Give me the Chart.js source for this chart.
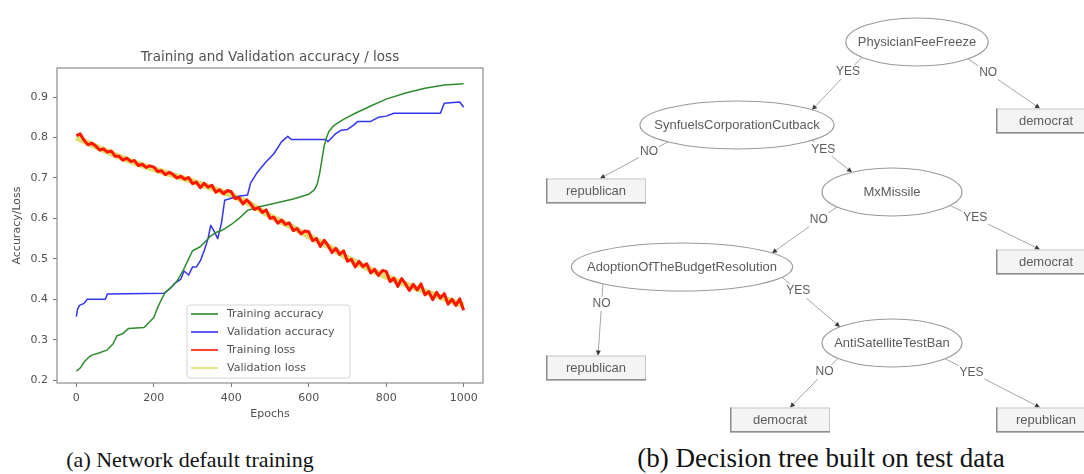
<!DOCTYPE html>
<html>
<head>
<meta charset="utf-8">
<script src="https://cdn.jsdelivr.net/npm/chart.js@4.4.1/dist/chart.umd.min.js"></script>
<style>
  html, body { margin: 0; padding: 0; background: #fff; width: 1084px; height: 474px; overflow: hidden; position: relative; }
  #lossChart { position: absolute; left: 0; top: 0; }
  #treeChart { position: absolute; left: 530px; top: 0; }
  .caption { position: absolute; font-family: 'Liberation Serif', serif; color: #111;
             white-space: nowrap; transform: translateX(-50%); }
  #capA { left: 190px; top: 449px; font-size: 22px; line-height: 22px; }
  #capB { left: 821px; top: 445px; font-size: 27px; line-height: 27px; }
</style>
</head>
<body>
<canvas id="lossChart" width="520" height="430"></canvas>
<canvas id="treeChart" width="554" height="440"></canvas>
<div class="caption" id="capA">(a) Network default training</div>
<div class="caption" id="capB">(b) Decision tree built on test data</div>

<script>
// ---------- training curves ----------
const chartTitle = 'Training and Validation accuracy / loss';
const epochTicks = [0, 200, 400, 600, 800, 1000];
const yTickValues = [0.2, 0.3, 0.4, 0.5, 0.6, 0.7, 0.8, 0.9];

const trainAccEpochs = [0, 10, 20, 30, 40, 60, 80, 95, 105, 120, 135, 175, 190, 200, 210, 220, 228, 245, 260, 275,
  290, 300, 320, 335, 345, 360, 375, 400, 420, 442, 470, 510, 560, 600, 614, 622, 628, 634, 640, 646,
  652, 665, 690, 720, 760, 800, 850, 900, 950, 1000];
const trainAcc = [0.222, 0.23, 0.245, 0.255, 0.262, 0.268, 0.275, 0.29, 0.31, 0.315, 0.328, 0.33, 0.345, 0.355, 0.38, 0.40, 0.415, 0.43, 0.445, 0.47,
  0.50, 0.52, 0.53, 0.545, 0.555, 0.565, 0.57, 0.585, 0.60, 0.62, 0.628, 0.637, 0.648, 0.66, 0.67, 0.685, 0.71, 0.745, 0.78, 0.80,
  0.815, 0.83, 0.845, 0.86, 0.878, 0.895, 0.91, 0.922, 0.93, 0.933];

const valAccEpochs = [0, 3, 8, 20, 28, 75, 80, 226, 240, 255, 270, 278, 290, 300, 310, 321, 330, 340, 347, 355,
  365, 375, 383, 400, 420, 442, 450, 468, 490, 510, 530, 546, 555, 644, 650, 660, 670, 683, 700, 715,
  727, 760, 780, 800, 820, 940, 950, 990, 1000];
const valAcc = [0.357, 0.375, 0.385, 0.39, 0.40, 0.40, 0.413, 0.415, 0.425, 0.44, 0.45, 0.47, 0.46, 0.48, 0.48, 0.497, 0.52, 0.55, 0.583, 0.57,
  0.55, 0.59, 0.645, 0.65, 0.655, 0.658, 0.688, 0.715, 0.74, 0.76, 0.79, 0.803, 0.795, 0.795, 0.79, 0.80, 0.81, 0.818, 0.82, 0.83,
  0.84, 0.84, 0.85, 0.853, 0.86, 0.86, 0.885, 0.888, 0.875];

// training loss, one reading every 10 epochs
const trainLossStep = 10;
const trainLoss = [
  0.805, 0.809, 0.793, 0.782, 0.786, 0.779, 0.769, 0.772, 0.764, 0.767,
  0.754, 0.754, 0.744, 0.749, 0.741, 0.743, 0.731, 0.734, 0.726, 0.730,
  0.727, 0.716, 0.718, 0.708, 0.714, 0.708, 0.700, 0.704, 0.697, 0.701,
  0.686, 0.690, 0.676, 0.687, 0.677, 0.682, 0.665, 0.671, 0.661, 0.669,
  0.666, 0.649, 0.651, 0.636, 0.646, 0.636, 0.622, 0.627, 0.615, 0.621,
  0.600, 0.603, 0.588, 0.596, 0.585, 0.589, 0.570, 0.575, 0.562, 0.569,
  0.567, 0.545, 0.550, 0.531, 0.546, 0.533, 0.516, 0.526, 0.511, 0.520,
  0.494, 0.499, 0.480, 0.494, 0.481, 0.488, 0.465, 0.474, 0.459, 0.471,
  0.469, 0.444, 0.452, 0.432, 0.451, 0.438, 0.422, 0.437, 0.423, 0.438,
  0.411, 0.419, 0.399, 0.417, 0.403, 0.414, 0.388, 0.400, 0.385, 0.401,
  0.373];

// validation loss, one reading every 50 epochs
const valLossStep = 50;
const valLoss = [0.800, 0.778, 0.757, 0.738, 0.722, 0.707, 0.692, 0.675, 0.658, 0.635, 0.606,
  0.582, 0.556, 0.532, 0.502, 0.478, 0.456, 0.437, 0.420, 0.402, 0.385];

const toPoints = (xs, ys) => xs.map((x, i) => ({ x, y: ys[i] }));
const stepPoints = (step, ys) => ys.map((y, i) => ({ x: i * step, y }));

const axisFont = { family: 'DejaVu Sans', size: 11 };
const textColor = '#505050';

// full box around the plotting area
const framePlugin = {
  id: 'frame',
  afterDatasetsDraw(chart) {
    const { ctx, chartArea: a } = chart;
    ctx.save();
    ctx.strokeStyle = '#8c8c8c';
    ctx.lineWidth = 1.2;
    ctx.strokeRect(a.left, a.top, a.right - a.left, a.bottom - a.top);
    ctx.restore();
  }
};

// title above the plotting area
const titlePlugin = {
  id: 'plotTitle',
  afterDraw(chart) {
    const { ctx, chartArea: a } = chart;
    ctx.save();
    ctx.font = '13.5px "DejaVu Sans"';
    ctx.fillStyle = textColor;
    ctx.textAlign = 'center';
    ctx.textBaseline = 'alphabetic';
    ctx.fillText(chartTitle, (a.left + a.right) / 2, a.top - 7);
    ctx.restore();
  }
};

// legend box inside the plot, lower centre
const insetLegend = {
  id: 'insetLegend',
  afterDraw(chart) {
    const { ctx, chartArea: a } = chart;
    const sets = chart.data.datasets;
    const left = a.left + 130, w = 163, rowH = 18;
    const h = sets.length * rowH + 1;
    const top = a.bottom - 5 - h;
    ctx.save();
    ctx.fillStyle = 'rgba(255,255,255,0.85)';
    ctx.strokeStyle = '#d4d4d4';
    ctx.lineWidth = 1;
    ctx.beginPath();
    ctx.roundRect(left, top, w, h, 3);
    ctx.fill();
    ctx.stroke();
    ctx.font = '11px "DejaVu Sans"';
    ctx.textBaseline = 'middle';
    ctx.textAlign = 'left';
    sets.forEach((ds, i) => {
      const y = top + 9 + i * rowH;
      ctx.strokeStyle = ds.borderColor;
      ctx.lineWidth = 1.6;
      ctx.beginPath();
      ctx.moveTo(left + 4, y);
      ctx.lineTo(left + 31, y);
      ctx.stroke();
      ctx.fillStyle = textColor;
      ctx.fillText(ds.label, left + 40, y);
    });
    ctx.restore();
  }
};

new Chart(document.getElementById('lossChart'), {
  type: 'line',
  data: {
    datasets: [
      { label: 'Training accuracy', data: toPoints(trainAccEpochs, trainAcc), borderColor: '#2e8b2e', borderWidth: 1.5, order: 2 },
      { label: 'Validation accuracy', data: toPoints(valAccEpochs, valAcc), borderColor: '#3434ee', borderWidth: 1.5, order: 2 },
      { label: 'Training loss', data: stepPoints(trainLossStep, trainLoss), borderColor: '#ff1600', borderWidth: 3, order: 1 },
      { label: 'Validation loss', data: stepPoints(valLossStep, valLoss), borderColor: '#dede70', borderWidth: 6, order: 3 }
    ]
  },
  options: {
    responsive: false,
    animation: false,
    events: [],
    elements: { point: { radius: 0, hoverRadius: 0 }, line: { tension: 0, borderJoinStyle: 'round' } },
    layout: { autoPadding: false, padding: { top: 68, right: 37, left: 0, bottom: 0 } },
    scales: {
      x: {
        type: 'linear', min: -50, max: 1050,
        afterBuildTicks: s => { s.ticks = epochTicks.map(v => ({ value: v })); },
        afterFit: s => { s.height = 47; },
        grid: { drawOnChartArea: false, drawTicks: true, tickLength: 4, tickColor: '#777' },
        border: { display: false },
        ticks: { padding: 5, color: textColor, font: axisFont, maxRotation: 0, callback: v => String(v) },
        title: { display: true, text: 'Epochs', color: textColor, font: axisFont, padding: { top: 0, bottom: 9 } }
      },
      y: {
        type: 'linear', min: 0.193, max: 0.972,
        afterBuildTicks: s => { s.ticks = yTickValues.map(v => ({ value: v })); },
        afterFit: s => { s.width = 57; },
        grid: { drawOnChartArea: false, drawTicks: true, tickLength: 4, tickColor: '#777' },
        border: { display: false },
        ticks: { padding: 5, color: textColor, font: axisFont, callback: v => Number(v).toFixed(1) },
        title: { display: true, text: 'Accuracy/Loss', color: textColor, font: axisFont, padding: { top: 11, bottom: 0 } }
      }
    },
    plugins: { legend: { display: false }, tooltip: { enabled: false }, title: { display: false } }
  },
  plugins: [framePlugin, titlePlugin, insetLegend]
});

// ---------- decision tree ----------
const nodeNames = ['PhysicianFeeFreeze', 'democrat', 'SynfuelsCorporationCutback', 'republican', 'MxMissile', 'democrat',
  'AdoptionOfTheBudgetResolution', 'AntiSatelliteTestBan', 'republican', 'democrat', 'republican'];
const nodeKinds = ['split', 'leaf', 'split', 'leaf', 'split', 'leaf', 'split', 'split', 'leaf', 'leaf', 'leaf'];
const nodeX = [387, 516, 207, 66, 362, 516, 152, 362, 66, 250, 516];
const nodeY = [42, 121, 125, 191, 192, 262, 267, 343, 368, 420, 420];

const edgeFrom = [0, 0, 2, 2, 4, 4, 6, 6, 7, 7];
const edgeTo = [2, 1, 3, 4, 6, 5, 8, 7, 9, 10];
const edgeLabels = ['YES', 'NO', 'NO', 'YES', 'NO', 'YES', 'NO', 'YES', 'NO', 'YES'];
// where each edge leaves its parent / meets its child, as horizontal offsets from the node centre
const edgeTailDx = [-55, 51, -69, 75, -55, 58, -79, 100, -54, 53];
const edgeHeadDx = [75, -6, 4, -40, 90, -6, 2, -52, 10, -6];

const nodeFont = '13px "Liberation Sans", Arial, sans-serif';
const edgeFont = '12px "Liberation Sans", Arial, sans-serif';

const treePlugin = {
  id: 'treeDiagram',
  afterDatasetsDraw(chart) {
    const ctx = chart.ctx;
    const pts = chart.getDatasetMeta(0).data;
    ctx.save();
    ctx.font = nodeFont;
    const shapes = pts.map((p, i) => {
      const tw = ctx.measureText(nodeNames[i]).width;
      return nodeKinds[i] === 'split'
        ? { kind: 'split', x: p.x, y: p.y, rx: Math.max(70, tw * 0.55 + 6), ry: 24 }
        : { kind: 'leaf', x: p.x, y: p.y, w: 100, h: 25 };
    });
    const tailPt = (s, dx) => s.kind === 'split'
      ? { x: s.x + dx, y: s.y + s.ry * Math.sqrt(Math.max(0, 1 - (dx / s.rx) ** 2)) }
      : { x: s.x + dx, y: s.y + s.h / 2 };
    const headPt = (s, dx) => s.kind === 'split'
      ? { x: s.x + dx, y: s.y - s.ry * Math.sqrt(Math.max(0, 1 - (dx / s.rx) ** 2)) }
      : { x: s.x + dx, y: s.y - s.h / 2 };

    // edges with arrowheads and YES / NO labels
    edgeFrom.forEach((f, k) => {
      const a = tailPt(shapes[f], edgeTailDx[k]);
      const b = headPt(shapes[edgeTo[k]], edgeHeadDx[k]);
      ctx.strokeStyle = '#a6a6a6';
      ctx.lineWidth = 1;
      ctx.beginPath();
      ctx.moveTo(a.x, a.y);
      ctx.lineTo(b.x, b.y);
      ctx.stroke();
      const ang = Math.atan2(b.y - a.y, b.x - a.x);
      const L = 5, W = 2.5;
      ctx.fillStyle = '#3a3a3a';
      ctx.beginPath();
      ctx.moveTo(b.x, b.y);
      ctx.lineTo(b.x - L * Math.cos(ang) + W * Math.sin(ang), b.y - L * Math.sin(ang) - W * Math.cos(ang));
      ctx.lineTo(b.x - L * Math.cos(ang) - W * Math.sin(ang), b.y - L * Math.sin(ang) + W * Math.cos(ang));
      ctx.closePath();
      ctx.fill();

      const lx = a.x + (b.x - a.x) * 0.28, ly = a.y + (b.y - a.y) * 0.28;
      ctx.font = edgeFont;
      const lw = ctx.measureText(edgeLabels[k]).width;
      ctx.fillStyle = '#fff';
      ctx.fillRect(lx - lw / 2 - 1, ly - 7, lw + 2, 14);
      ctx.fillStyle = '#5c5c5c';
      ctx.textAlign = 'center';
      ctx.textBaseline = 'middle';
      ctx.fillText(edgeLabels[k], lx, ly);
    });

    // nodes
    ctx.font = nodeFont;
    ctx.textAlign = 'center';
    ctx.textBaseline = 'middle';
    shapes.forEach((s, i) => {
      if (s.kind === 'split') {
        ctx.fillStyle = '#fff';
        ctx.strokeStyle = '#9a9a9a';
        ctx.lineWidth = 1.2;
        ctx.beginPath();
        ctx.ellipse(s.x, s.y, s.rx, s.ry, 0, 0, Math.PI * 2);
        ctx.fill();
        ctx.stroke();
      } else {
        const l = s.x - s.w / 2, t = s.y - s.h / 2;
        ctx.fillStyle = '#f4f4f4';
        ctx.fillRect(l, t, s.w, s.h);
        ctx.strokeStyle = '#c8c8c8';
        ctx.lineWidth = 1;
        ctx.strokeRect(l + 0.5, t + 0.5, s.w - 1, s.h - 1);
        ctx.strokeStyle = '#8e8e8e';
        ctx.lineWidth = 1.5;
        ctx.beginPath();
        ctx.moveTo(l + 0.75, t);
        ctx.lineTo(l + 0.75, t + s.h - 0.75);
        ctx.lineTo(l + s.w, t + s.h - 0.75);
        ctx.stroke();
      }
      ctx.fillStyle = '#5c5c5c';
      ctx.fillText(nodeNames[i], s.x, s.y + 0.5);
    });
    ctx.restore();
  }
};

new Chart(document.getElementById('treeChart'), {
  type: 'scatter',
  data: { datasets: [{ data: toPoints(nodeX, nodeY), pointRadius: 0, pointHoverRadius: 0 }] },
  options: {
    responsive: false,
    animation: false,
    events: [],
    layout: { autoPadding: false, padding: 0 },
    scales: {
      x: { display: false, min: 0, max: 554 },
      y: { display: false, min: 0, max: 440, reverse: true }
    },
    plugins: { legend: { display: false }, tooltip: { enabled: false } }
  },
  plugins: [treePlugin]
});
</script>
</body>
</html>
